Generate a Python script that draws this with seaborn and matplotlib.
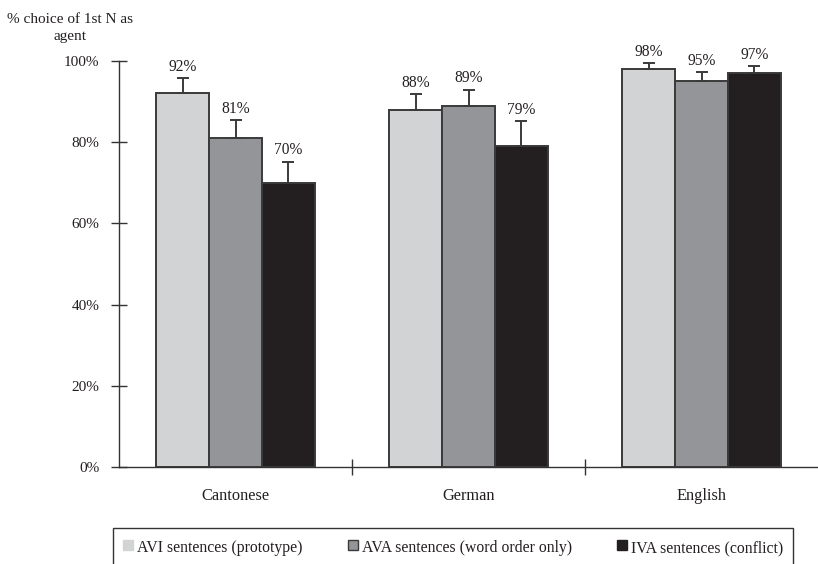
import matplotlib
matplotlib.use("Agg")
import matplotlib.pyplot as plt
from matplotlib.lines import Line2D
import numpy as np
import pandas as pd
import seaborn as sns

# ---- data -------------------------------------------------------------
languages = ["Cantonese", "German", "English"]
conditions = ["AVI sentences (prototype)",
              "AVA sentences (word order only)",
              "IVA sentences (conflict)"]
avi_pct = [92, 88, 98]
ava_pct = [81, 89, 95]
iva_pct = [70, 79, 97]
avi_err = [3.7, 3.8, 1.5]
ava_err = [4.4, 3.9, 2.2]
iva_err = [5.2, 6.1, 1.7]
y_ticks = [0, 20, 40, 60, 80, 100]

colors = ["#d1d3d4", "#939598", "#231f20"]
edge = "#3a3a3a"

df = pd.DataFrame({
    "language": languages * 3,
    "condition": [c for c in conditions for _ in languages],
    "pct": avi_pct + ava_pct + iva_pct,
    "err": avi_err + ava_err + iva_err,
})

# ---- style ------------------------------------------------------------
sns.set_theme(style="white")
plt.rcParams["font.family"] = ["Liberation Serif", "DejaVu Serif"]
plt.rcParams["font.size"] = 11
plt.rcParams["text.color"] = "#231f20"

W, H = 818, 564
fig = plt.figure(figsize=(W / 100, H / 100), dpi=100)
ax = fig.add_axes([119 / W, 1 - 467 / H, (W - 119) / W, (467 - 61) / H])

sns.barplot(data=df, x="language", y="pct", hue="condition",
            order=languages, hue_order=conditions, palette=colors,
            width=0.68, gap=0, errorbar=None, saturation=1,
            edgecolor=edge, linewidth=1.4, legend=False, ax=ax)

# upper error bars and value labels
for cond, cont in zip(conditions, ax.containers):
    sub = df[df["condition"] == cond].set_index("language").loc[languages]
    for patch, val, err in zip(cont.patches, sub["pct"], sub["err"]):
        xc = patch.get_x() + patch.get_width() / 2
        ax.errorbar([xc], [val], yerr=[[0], [err]], fmt="none",
                    ecolor=edge, elinewidth=1.4, capsize=4, capthick=1.4)
        ax.annotate(f"{val}%", (xc, val + err), xytext=(0, 2.5),
                    textcoords="offset points", ha="center", va="bottom",
                    fontsize=11.2)

# ---- axes -------------------------------------------------------------
ax.set_ylim(0, 100)
ax.set_xlim(-0.5, 2.5)
ax.set_yticks(y_ticks)
ax.set_yticklabels([f"{t}%" for t in y_ticks])
ax.set_xticks([0.5, 1.5])
ax.set_xticklabels([])
ax.set_xticks(range(len(languages)), minor=True)
ax.set_xticklabels(languages, minor=True)
ax.set_xlabel("")
ax.set_ylabel("")

for side in ["top", "right"]:
    ax.spines[side].set_visible(False)
for side in ["left", "bottom"]:
    ax.spines[side].set_color("#333333")
    ax.spines[side].set_linewidth(1.0)
    ax.spines[side].set_clip_on(False)

ax.tick_params(axis="y", which="major", direction="inout", length=12,
               width=1.0, color="#333333", pad=8, labelsize=11,
               left=True, labelcolor="#231f20")
ax.tick_params(axis="x", which="major", direction="inout", length=11,
               width=1.0, color="#333333", bottom=True)
ax.tick_params(axis="x", which="minor", length=0, pad=15, labelsize=11.8,
               labelcolor="#231f20")
ax.grid(False)

fig.text(70 / W, 1 - 28 / H, "% choice of 1st N as\nagent", ha="center",
         va="center", fontsize=11, linespacing=1.35)

# ---- legend -----------------------------------------------------------
handles = [Line2D([], [], marker="s", linestyle="", markersize=7.5,
                  markerfacecolor=c, markeredgecolor=e, markeredgewidth=1.0)
           for c, e in zip(colors, [colors[0], edge, colors[2]])]
leg = fig.legend(handles, conditions, loc="upper left", ncol=3,
                 mode="expand",
                 bbox_to_anchor=(113 / W, 0, (793 - 113) / W, 1 - 528 / H),
                 borderaxespad=0, borderpad=0.6, handlelength=0.7,
                 handleheight=1.5, handletextpad=0.25, columnspacing=2.5,
                 fancybox=False, framealpha=1, fontsize=11.3)
leg.get_frame().set_edgecolor("#333333")
leg.get_frame().set_linewidth(1.0)

fig.savefig("out.png", dpi=100)
